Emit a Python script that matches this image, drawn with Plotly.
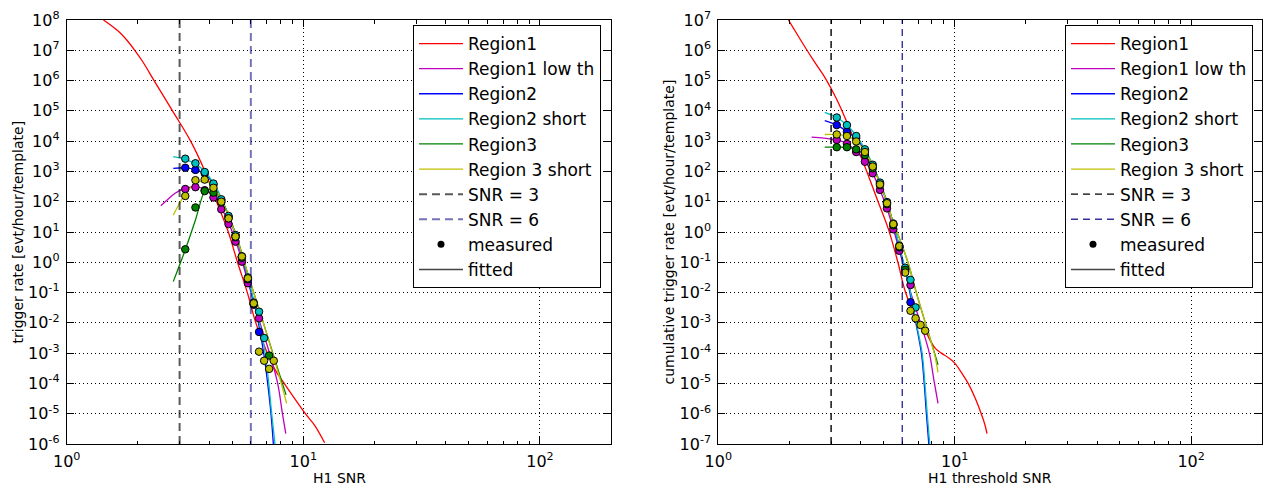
import math
import plotly.graph_objects as go

# ---------------- data ----------------
snr_bins = [3.17, 3.5, 3.83, 4.17, 4.5, 4.83, 5.17, 5.5, 5.83, 6.17, 6.5, 6.83, 7.17, 7.5]

series_names = ["Region1", "Region1 low th", "Region2", "Region2 short", "Region3", "Region 3 short"]
series_keys = ["r1", "r1low", "r2", "r2s", "r3", "r3s"]
series_colors = ["#FF0000", "#BF00BF", "#0000FF", "#00BFBF", "#008000", "#BFBF00"]

snr_thresholds = [3, 6]
snr_names = ["SNR = 3", "SNR = 6"]

# left panel: trigger rate, measured (None = no point)
left_meas = {
    "r1low": [263, 302, 240, 138, 56.2, 18.2, 4.79, 1.05, 0.204, 0.0398, 0.0141, None, None, None],
    "r2":    [1320, 1120, 871, 363, 112, 31.6, 7.59, 1.48, 0.282, 0.0417, 0.00501, None, None, None],
    "r2s":   [2630, 1860, 955, 398, 120, 33.9, 7.94, 1.58, 0.316, 0.0468, 0.0234, 0.00316, None, None],
    "r3":    [2.69, 64.6, 224, 200, 95.5, 28.2, 6.76, 1.41, 0.275, 0.0427, None, None, 0.000832, None],
    "r3s":   [155, 513, 537, 288, 100, 28.2, 7.08, 1.55, 0.295, 0.0442, 0.00112, 0.000562, 0.000302, 0.000562],
}

# left panel: fitted curves
left_fit_r1_x = [1.43, 1.65, 1.8, 1.94, 2.1, 2.34, 2.8, 3.34, 3.84, 4.3, 4.82, 5.27, 5.8, 6.3, 7.05, 7.6, 8.3, 10.2, 11.2, 12.3]
left_fit_r1_y = [1e8, 4.3e7, 2.1e7, 1e7, 4.1e6, 1e6, 1e5, 1e4, 1e3, 100, 10, 1, 0.1, 0.01, 1e-3, 2.8e-4, 1e-4, 1e-5, 4e-6, 1.1e-6]
left_fit_r1low_x = [2.5, 2.65, 2.87, 3.17, 3.5, 3.83, 4.17, 4.5, 4.83, 5.17, 5.5, 5.83, 6.17, 6.56, 7.2, 7.79, 8.16, 8.43]
left_fit_r1low_y = [74, 112, 191, 275, 316, 251, 151, 63, 20, 5.2, 1.15, 0.23, 0.05, 0.01, 1e-3, 1e-4, 1e-5, 2.2e-6]
left_fit_r2_x = [2.82, 3.17, 3.5, 3.83, 4.17, 4.5, 4.83, 5.17, 5.5, 5.83, 6.17, 6.46, 6.8, 7.07, 7.3, 7.47]
left_fit_r2_y = [1260, 1320, 1150, 830, 400, 126, 34, 7.9, 1.58, 0.28, 0.05, 0.01, 1e-3, 1e-4, 1e-5, 1e-6]
left_fit_r2s_x = [2.82, 3.17, 3.5, 3.83, 4.17, 4.5, 4.83, 5.17, 5.5, 5.83, 6.17, 6.5, 6.83, 7.1, 7.35, 7.59]
left_fit_r2s_y = [3090, 2510, 1780, 1000, 417, 132, 36, 8.5, 1.74, 0.32, 0.056, 0.0105, 1.6e-3, 1.6e-4, 1e-5, 1e-6]
left_fit_r3_x = [2.82, 3.17, 3.5, 3.84, 4.0, 4.17, 4.5, 4.83, 5.17, 5.5, 5.76, 6.2, 6.78, 7.5, 8.0, 8.45]
left_fit_r3_y = [0.23, 2.6, 25, 224, 250, 230, 112, 35.5, 8.9, 2.0, 0.56, 0.089, 0.01, 7.9e-4, 1.6e-4, 4.2e-5]
left_fit_r3s_x = [2.82, 3.0, 3.17, 3.5, 3.83, 4.17, 4.5, 4.83, 5.17, 5.5, 5.76, 6.2, 6.78, 7.5, 8.0, 8.5]
left_fit_r3s_y = [36, 89, 178, 398, 479, 316, 117, 33, 8.5, 1.9, 0.56, 0.089, 0.01, 7.1e-4, 1.26e-4, 2.2e-5]

# right panel: cumulative trigger rate, measured
right_meas = {
    "r1low": [1100, 813, 437, 209, 87.1, 24.5, 6.03, 1.23, 0.24, 0.0501, 0.0178, None, None, None],
    "r2":    [3390, 2040, 1260, 479, 151, 39.8, 9.33, 1.74, 0.316, 0.0603, 0.00479, None, None, None],
    "r2s":   [6030, 3390, 1480, 537, 166, 42.7, 9.77, 1.91, 0.355, 0.0661, 0.0263, 0.00324, None, None],
    "r3":    [631, 631, 537, 347, 126, 35.5, 8.32, 1.66, 0.316, 0.0562, None, None, None, None],
    "r3s":   [1660, 1480, 977, 437, 145, 37.2, 8.91, 1.82, 0.339, 0.0457, 0.00251, 0.00141, 0.000851, 0.00055],
}

# right panel: fitted curves
right_fit_r1_x = [1.98, 2.2, 2.52, 2.85, 3.16, 3.5, 3.84, 4.27, 4.72, 5.25, 5.75, 6.2, 7.0, 7.5, 7.9, 8.3, 8.78, 9.4, 10.0, 10.7, 11.4, 12.2, 12.95, 13.4, 13.7]
right_fit_r1_y = [1e7, 2.6e6, 4.8e5, 1.12e5, 2.5e4, 4.2e3, 710, 89, 11, 1.2, 0.1, 0.01, 1e-3, 5.5e-4, 2.5e-4, 1.41e-4, 1e-4, 7.1e-5, 4.7e-5, 2.24e-5, 1e-5, 3.3e-6, 1e-6, 4.5e-7, 2.2e-7]
right_fit_r1low_x = [2.48, 2.8, 3.17, 3.5, 3.83, 4.17, 4.5, 4.83, 5.17, 5.5, 5.83, 6.17, 6.5, 7.16, 7.81, 8.17, 8.5]
right_fit_r1low_y = [1350, 1260, 1100, 830, 457, 214, 85, 24.5, 6.0, 1.26, 0.25, 0.05, 0.0105, 1e-3, 1e-4, 1.26e-5, 2.2e-6]
right_fit_r2_x = [2.82, 3.17, 3.5, 3.83, 4.17, 4.5, 4.83, 5.17, 5.5, 5.83, 6.17, 6.46, 6.85, 7.23, 7.43, 7.59, 7.77]
right_fit_r2_y = [4790, 3390, 2090, 1200, 500, 158, 41.7, 9.5, 1.82, 0.316, 0.056, 0.01, 1e-3, 1e-4, 1e-5, 1e-6, 1e-7]
right_fit_r2s_x = [2.82, 3.17, 3.5, 3.83, 4.17, 4.5, 4.83, 5.17, 5.5, 5.83, 6.17, 6.5, 6.88, 7.28, 7.48, 7.65, 7.84]
right_fit_r2s_y = [8910, 6030, 3390, 1510, 550, 170, 43.7, 10, 1.91, 0.347, 0.06, 0.01, 1e-3, 1e-4, 1e-5, 1e-6, 1e-7]
right_fit_r3_x = [2.82, 3.17, 3.5, 3.83, 4.17, 4.5, 4.83, 5.17, 5.5, 5.83, 6.34, 6.88, 7.51, 8.22, 8.5]
right_fit_r3_y = [631, 631, 617, 537, 347, 138, 39.8, 9.5, 2.0, 0.63, 0.1, 0.01, 1e-3, 1e-4, 4.1e-5]
right_fit_r3s_x = [2.82, 3.17, 3.5, 3.83, 4.17, 4.5, 4.83, 5.17, 5.5, 5.83, 6.34, 6.88, 7.51, 8.22, 8.5]
right_fit_r3s_y = [1660, 1660, 1480, 1000, 457, 151, 39.8, 9.5, 2.0, 0.63, 0.1, 0.01, 1e-3, 8.9e-5, 2.3e-5]

left_fits = {
    "r1": (left_fit_r1_x, left_fit_r1_y), "r1low": (left_fit_r1low_x, left_fit_r1low_y),
    "r2": (left_fit_r2_x, left_fit_r2_y), "r2s": (left_fit_r2s_x, left_fit_r2s_y),
    "r3": (left_fit_r3_x, left_fit_r3_y), "r3s": (left_fit_r3s_x, left_fit_r3s_y),
}
right_fits = {
    "r1": (right_fit_r1_x, right_fit_r1_y), "r1low": (right_fit_r1low_x, right_fit_r1low_y),
    "r2": (right_fit_r2_x, right_fit_r2_y), "r2s": (right_fit_r2s_x, right_fit_r2s_y),
    "r3": (right_fit_r3_x, right_fit_r3_y), "r3s": (right_fit_r3s_x, right_fit_r3s_y),
}

x_major_ticks = [1, 10, 100]
x_major_text = ["10<sup>0</sup>", "10<sup>1</sup>", "10<sup>2</sup>"]
x_minor_ticks = [2, 3, 4, 5, 6, 7, 8, 9, 20, 30, 40, 50, 60, 70, 80, 90]
x_max = 200

left_y_ticks = [1e-6, 1e-5, 1e-4, 1e-3, 1e-2, 1e-1, 1, 10, 100, 1e3, 1e4, 1e5, 1e6, 1e7, 1e8]
left_y_text = ["10<sup>-6</sup>", "10<sup>-5</sup>", "10<sup>-4</sup>", "10<sup>-3</sup>", "10<sup>-2</sup>",
               "10<sup>-1</sup>", "10<sup>0</sup>", "10<sup>1</sup>", "10<sup>2</sup>", "10<sup>3</sup>",
               "10<sup>4</sup>", "10<sup>5</sup>", "10<sup>6</sup>", "10<sup>7</sup>", "10<sup>8</sup>"]
right_y_ticks = [1e-7, 1e-6, 1e-5, 1e-4, 1e-3, 1e-2, 1e-1, 1, 10, 100, 1e3, 1e4, 1e5, 1e6, 1e7]
right_y_text = ["10<sup>-7</sup>", "10<sup>-6</sup>", "10<sup>-5</sup>", "10<sup>-4</sup>", "10<sup>-3</sup>",
                "10<sup>-2</sup>", "10<sup>-1</sup>", "10<sup>0</sup>", "10<sup>1</sup>", "10<sup>2</sup>",
                "10<sup>3</sup>", "10<sup>4</sup>", "10<sup>5</sup>", "10<sup>6</sup>", "10<sup>7</sup>"]

# ---------------- figure ----------------
W, H = 1263, 485
FONT = "DejaVu Sans"
fig = go.Figure()

panels = [
    dict(xa="x", ya="y", legend="legend", meas=left_meas, fits=left_fits,
         vline_width=2, vline_colors=["rgba(0,0,0,0.65)", "rgba(0,0,128,0.55)"], vdash="8px,5px"),
    dict(xa="x2", ya="y2", legend="legend2", meas=right_meas, fits=right_fits,
         vline_width=1.4, vline_colors=["rgba(0,0,0,1)", "rgba(0,0,128,0.8)"], vdash="7px,5px"),
]

for p in panels:
    # fitted lines (carry legend entries)
    for rank, (key, name, col) in enumerate(zip(series_keys, series_names, series_colors)):
        fx, fy = p["fits"][key]
        fig.add_trace(go.Scatter(
            x=fx, y=fy, mode="lines", name=name, xaxis=p["xa"], yaxis=p["ya"],
            line=dict(color=col, width=1.3, shape="spline", smoothing=1.0),
            legend=p["legend"], legendrank=rank + 1, hoverinfo="skip"))
    # measured points
    for key, col in zip(series_keys, series_colors):
        if key not in p["meas"]:
            continue
        fig.add_trace(go.Scatter(
            x=snr_bins, y=p["meas"][key], mode="markers", xaxis=p["xa"], yaxis=p["ya"],
            marker=dict(color=col, size=7.5, line=dict(color="black", width=1)),
            showlegend=False, hoverinfo="skip"))
    # threshold lines
    for i, (thr, nm) in enumerate(zip(snr_thresholds, snr_names)):
        fig.add_shape(type="line", xref=p["xa"], yref=p["ya"] + " domain", x0=thr, x1=thr, y0=0, y1=1,
                      line=dict(color=p["vline_colors"][i], width=p["vline_width"], dash=p["vdash"]),
                      layer="above")
        fig.add_trace(go.Scatter(
            x=[None], y=[None], mode="lines", name=nm, xaxis=p["xa"], yaxis=p["ya"],
            line=dict(color=p["vline_colors"][i], width=p["vline_width"], dash=p["vdash"]),
            legend=p["legend"], legendrank=7 + i))
    fig.add_trace(go.Scatter(
        x=[None], y=[None], mode="markers", name="measured", xaxis=p["xa"], yaxis=p["ya"],
        marker=dict(color="black", size=7), legend=p["legend"], legendrank=9))
    fig.add_trace(go.Scatter(
        x=[None], y=[None], mode="lines", name="fitted", xaxis=p["xa"], yaxis=p["ya"],
        line=dict(color="#444444", width=1.5), legend=p["legend"], legendrank=10))


def px_x(v):
    return v / W


def px_y(v):
    return 1 - v / H


def common_axis():
    return dict(
        type="log", showline=True, linecolor="black", linewidth=1, mirror="allticks",
        ticks="inside", ticklen=7, tickwidth=1, tickcolor="black", automargin=False,
        showgrid=True, gridcolor="black", griddash="1px,3px", gridwidth=1, zeroline=False,
        tickfont=dict(family=FONT, size=16, color="black"), ticklabelstandoff=3,
    )


xcommon = common_axis()
xcommon.update(range=[0, math.log10(x_max)], tickmode="array", tickvals=x_major_ticks, ticktext=x_major_text,
               minor=dict(tickmode="array", tickvals=x_minor_ticks, ticks="inside", ticklen=3.5,
                          tickcolor="black", showgrid=False))

left_dom_x = [px_x(66.7), px_x(611.2)]
right_dom_x = [px_x(718.3), px_x(1262.3)]
dom_y = [px_y(444), px_y(20)]

ly = common_axis()
ly.update(range=[-6, 8], tickmode="array", tickvals=left_y_ticks, ticktext=left_y_text, domain=dom_y, anchor="x")
ry = common_axis()
ry.update(range=[-7, 7], tickmode="array", tickvals=right_y_ticks, ticktext=right_y_text, domain=dom_y, anchor="x2")

lx = dict(xcommon, domain=left_dom_x, anchor="y")
rx = dict(xcommon, domain=right_dom_x, anchor="y2")

legend_style = dict(
    font=dict(family=FONT, size=17, color="black"), bgcolor="white", bordercolor="black", borderwidth=1,
    xanchor="left", yanchor="top", y=px_y(25), tracegroupgap=0, itemwidth=44,
)

fig.update_layout(
    width=W, height=H, margin=dict(l=0, r=0, t=0, b=0, autoexpand=False),
    paper_bgcolor="white", plot_bgcolor="white",
    font=dict(family=FONT, color="black"),
    xaxis=lx, yaxis=ly, xaxis2=rx, yaxis2=ry,
    legend=dict(legend_style, x=px_x(413)),
    legend2=dict(legend_style, x=px_x(1065)),
    annotations=[
        dict(text="H1 SNR", x=px_x(339), y=px_y(477.5), xref="paper", yref="paper", showarrow=False,
             xanchor="center", yanchor="middle", font=dict(family=FONT, size=14, color="black")),
        dict(text="H1 threshold SNR", x=px_x(990.3), y=px_y(477.5), xref="paper", yref="paper", showarrow=False,
             xanchor="center", yanchor="middle", font=dict(family=FONT, size=14, color="black")),
        dict(text="trigger rate [evt/hour/template]", x=px_x(17.5), y=px_y(232), xref="paper", yref="paper",
             showarrow=False, textangle=-90, xanchor="center", yanchor="middle",
             font=dict(family=FONT, size=14, color="black")),
        dict(text="cumulative trigger rate [evt/hour/template]", x=px_x(668.5), y=px_y(232), xref="paper",
             yref="paper", showarrow=False, textangle=-90, xanchor="center", yanchor="middle",
             font=dict(family=FONT, size=14, color="black")),
    ],
)

fig.write_html("out.html", config={"displayModeBar": False},
               post_script="document.body.style.margin='0';document.body.style.overflow='hidden';")
